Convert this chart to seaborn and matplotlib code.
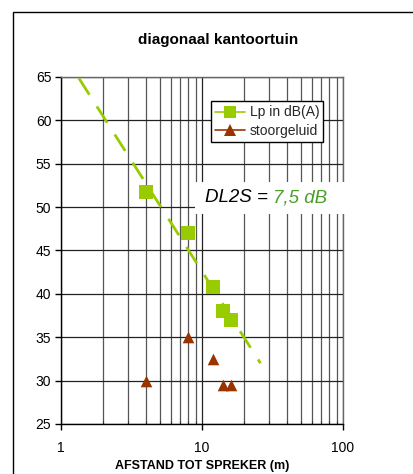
import numpy as np
import pandas as pd
import matplotlib
matplotlib.use("Agg")
import matplotlib.pyplot as plt
import seaborn as sns
from matplotlib.patches import Rectangle
from matplotlib.lines import Line2D
from matplotlib.ticker import LogLocator, NullFormatter

# ---- data ----
afstand = [4, 8, 12, 14, 16]
lp_dba = [51.8, 47.0, 40.8, 38.0, 37.0]
stoor_afstand = [4, 8, 12, 14, 16]
stoorgeluid = [30.0, 35.0, 32.5, 29.5, 29.5]
trend_range = [1.0, 26.0]
y_ticks = [25, 30, 35, 40, 45, 50, 55, 60, 65]
x_ticks = [1, 10, 100]
x_tick_labels = ["1", "10", "100"]
title = "diagonaal kantoortuin"
xlabel = "AFSTAND TOT SPREKER (m)"
legend_labels = ["Lp in dB(A)", "stoorgeluid"]
annot_left = "DL2S = "
annot_right = "7,5 dB"

sns.set_theme(style="white")
plt.rcParams['font.family'] = ['Liberation Sans', 'DejaVu Sans']

W, H = 413, 474
fig = plt.figure(figsize=(W / 100, H / 100), dpi=100)
ax = fig.add_axes([61 / W, 1 - 424 / H, (343 - 61) / W, (424 - 77) / H])

green = "#99cc00"
brown = "#993300"

# trend line: logarithmic fit of Lp data
coef = np.polyfit(np.log10(afstand), lp_dba, 1)
tx = np.logspace(np.log10(trend_range[0]), np.log10(trend_range[1]), 100)
trend = pd.DataFrame({"x": tx, "y": coef[0] * np.log10(tx) + coef[1]})
sns.lineplot(data=trend, x="x", y="y", ax=ax, color=green, lw=2.0,
             dashes=False, zorder=3)
ax.lines[-1].set_dashes([7, 5])

df_lp = pd.DataFrame({"x": afstand, "y": lp_dba})
df_st = pd.DataFrame({"x": stoor_afstand, "y": stoorgeluid})
sns.scatterplot(data=df_lp, x="x", y="y", ax=ax, marker="s", s=110,
                color=green, edgecolor=green, linewidth=0, zorder=4)
sns.scatterplot(data=df_st, x="x", y="y", ax=ax, marker="^", s=70,
                color=brown, edgecolor=brown, linewidth=0, zorder=4)

ax.set_xscale("log")
ax.set_xlim(1, 100)
ax.set_ylim(25, 65)
ax.set_yticks(y_ticks)
ax.set_xticks(x_ticks)
ax.set_xticklabels(x_tick_labels)
ax.xaxis.set_minor_locator(LogLocator(base=10, subs=np.arange(2, 10)))
ax.xaxis.set_minor_formatter(NullFormatter())

ax.grid(True, which="major", axis="both", color="#222222", lw=0.9)
ax.grid(True, which="minor", axis="x", color="#555555", lw=0.9)
ax.set_axisbelow(True)
for s in ["left", "bottom"]:
    ax.spines[s].set_color("black")
    ax.spines[s].set_linewidth(1.0)
for s in ["top", "right"]:
    ax.spines[s].set_color("#666666")
    ax.spines[s].set_linewidth(1.0)

ax.tick_params(axis="both", which="major", direction="out", length=4,
               width=1, color="black", labelsize=10, labelcolor="black",
               bottom=True, left=True, pad=3)
ax.tick_params(axis="x", which="major", pad=8)
ax.tick_params(axis="x", which="minor", bottom=True, length=2, width=0.8,
               color="#333333", direction="in")
ax.set_xlabel("")
ax.set_ylabel("")
fig.text(202 / W, 1 - 466 / H, xlabel, fontsize=9, fontweight="bold",
         ha="center", va="center", color="black")

# legend
handles = [
    Line2D([0], [0], color=green, lw=1.2, marker="s", markersize=8,
           markeredgewidth=0),
    Line2D([0], [0], color=brown, lw=1.2, marker="^", markersize=8,
           markeredgewidth=0),
]
leg = ax.legend(handles, legend_labels, loc="upper left",
                bbox_to_anchor=(0.531, 0.93), fontsize=10, frameon=True,
                fancybox=False, framealpha=1, edgecolor="black",
                borderpad=0.3, handlelength=2.2, handletextpad=0.3,
                labelspacing=0.3, borderaxespad=0)
leg.get_frame().set_linewidth(1.0)
leg.set_zorder(6)

# annotation with white box
fig.patches.append(Rectangle((195 / W, 1 - 214 / H), (350 - 195) / W,
                             (214 - 182) / H, transform=fig.transFigure,
                             facecolor="white", edgecolor="none", zorder=5))
t1 = fig.text(205 / W, 1 - 198 / H, annot_left, fontsize=13.5,
              style="italic", color="black", va="center", ha="left",
              zorder=7)
fig.canvas.draw()
bb = t1.get_window_extent()
fig.text(bb.x1 / W, 1 - 198 / H, annot_right, fontsize=13.5,
         style="italic", color="#4a9e2a", va="center", ha="left", zorder=7)

fig.text(218 / W, 1 - 40 / H, title, fontsize=11, fontweight="bold",
         ha="center", va="center", color="black")

# outer chart frame
fig.patches.append(Rectangle((13 / W, -0.1), 1.2, 1 - 12 / H + 0.1,
                             transform=fig.transFigure, facecolor="none",
                             edgecolor="black", lw=1.0, zorder=0))

fig.savefig("out.png", dpi=100, facecolor="white")
